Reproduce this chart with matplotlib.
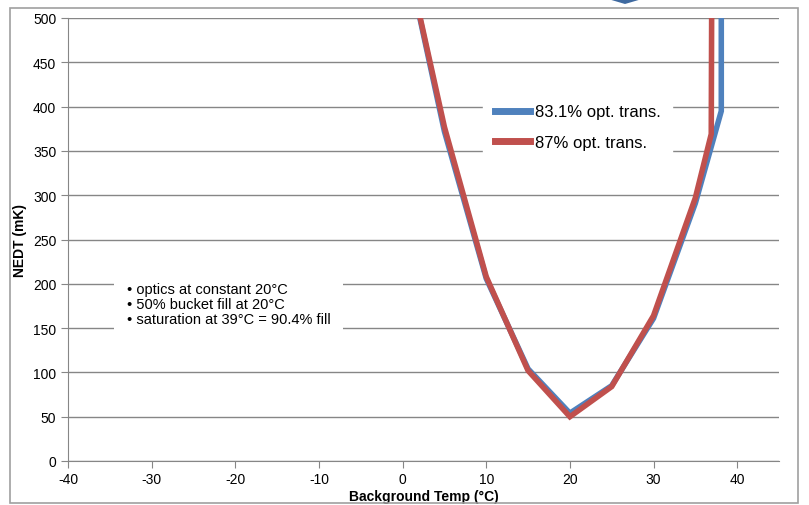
import matplotlib.pyplot as plt
from matplotlib.patches import Rectangle, Polygon

plt.rcParams['font.family'] = ['Liberation Sans', 'DejaVu Sans']
plt.rcParams['axes.unicode_minus'] = False

# Data
temp_blue = [0, 5, 10, 15, 20, 25, 30, 35, 38.1, 38.1]
nedt_blue = [590, 372, 206, 104, 54, 85, 161, 291, 395, 650]
temp_red = [0, 5, 10, 15, 20, 25, 30, 35, 36.9, 37.0]
nedt_red = [590, 377, 208, 102, 50, 84, 164, 297, 369, 650]

blue = '#4f81bd'
red = '#c0504d'
grey = '#868686'

fig = plt.figure(figsize=(8.09, 5.06), dpi=100)
W, H = 809, 506

# outer chart frame
fig.patches.append(Rectangle((10 / W, 2 / H), 788 / W, 495 / H, transform=fig.transFigure,
                             fill=False, edgecolor='#a0a0a0', linewidth=1.2))
# small chevron at top
fig.patches.append(Polygon([(608 / W, 1.0), (642 / W, 1.0), (625 / W, 1 - 5 / H)],
                           closed=True, transform=fig.transFigure,
                           facecolor='#3f6aa0', edgecolor='none'))

ax = fig.add_axes([68 / W, (H - 462) / H, (779 - 68) / W, (462 - 19) / H])

ax.plot(temp_blue, nedt_blue, color=blue, linewidth=4, label='83.1% opt. trans.',
        solid_joinstyle='miter', zorder=3)
ax.plot(temp_red, nedt_red, color=red, linewidth=4, label='87% opt. trans.',
        solid_joinstyle='miter', zorder=4)

ax.set_xlim(-40, 45)
ax.set_ylim(0, 500)
ax.set_xticks(range(-40, 41, 10))
ax.set_yticks(range(0, 501, 50))
ax.grid(axis='y', color=grey, linewidth=1)
ax.set_axisbelow(True)
for s in ['top', 'right']:
    ax.spines[s].set_visible(False)
for s in ['left', 'bottom']:
    ax.spines[s].set_color(grey)
ax.tick_params(colors=grey, labelcolor='black', labelsize=10, length=5, direction='out')
ax.tick_params(axis='x', pad=3)

ax.set_xlabel('Background Temp (°C)', fontsize=10, fontweight='bold', labelpad=2)
ax.set_ylabel('NEDT (mK)', fontsize=10, fontweight='bold', labelpad=4)

leg = ax.legend(loc='upper left', bbox_to_anchor=(0.572, 0.85), frameon=True,
                fontsize=12, handlelength=2.1, handletextpad=0.3, labelspacing=0.95,
                borderpad=0.7, fancybox=False)
leg.get_frame().set_edgecolor('white')
leg.get_frame().set_facecolor('white')
leg.get_frame().set_alpha(1)
for line in leg.get_lines():
    line.set_linewidth(5)

notes = ('\u2022 optics at constant 20°C\n'
         '\u2022 50% bucket fill at 20°C\n'
         '\u2022 saturation at 39°C = 90.4% fill')
ax.text(0.083, 0.355, notes, transform=ax.transAxes, fontsize=10.5, va='center',
        linespacing=1.1,
        bbox=dict(facecolor='white', edgecolor='none', pad=9))

fig.savefig('out.png', dpi=100)
